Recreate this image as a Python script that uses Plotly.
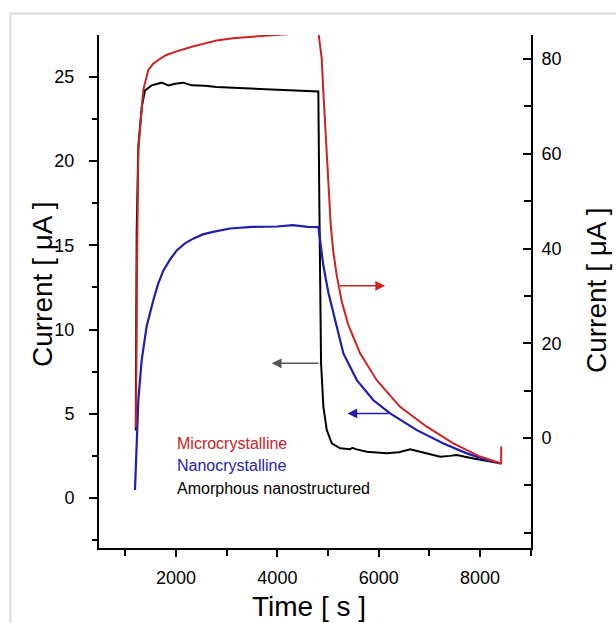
import plotly.graph_objects as go

# ---- data ----
t_red = [1210, 1215, 1230, 1256, 1309, 1354, 1453, 1550, 1650, 1800, 1980, 2140, 2310, 2572,
         2800, 3125, 3450, 3800, 4100, 4450, 4650, 4808, 4875, 4907, 4940, 4974, 5006, 5053,
         5104, 5171, 5270, 5400, 5632, 5961, 6421, 6948, 7473, 8000, 8395, 8415, 8418]
v_red = [2.3, 15.0, 36.9, 60.8, 68.5, 73.5, 77.7, 79.0, 79.8, 80.8, 81.5, 82.1, 82.6, 83.3,
         83.9, 84.4, 84.7, 85.0, 85.2, 85.4, 85.5, 85.8, 80.1, 73.1, 66.1, 59.0, 52.0, 45.0,
         39.3, 34.4, 28.8, 23.9, 17.9, 12.2, 6.6, 2.4, -1.1, -3.9, -5.3, -5.5, -1.8]

t_blue = [1190, 1256, 1323, 1421, 1552, 1645, 1749, 1880, 2014, 2170, 2336, 2530, 2730, 3066,
          3500, 4000, 4300, 4600, 4810, 4842, 4907, 5006, 5138, 5303, 5568, 5895, 6225, 6752,
          7277, 7740, 8134, 8397]
v_blue = [0.47, 5.8, 8.2, 10.2, 11.74, 12.7, 13.5, 14.15, 14.7, 15.1, 15.4, 15.65, 15.8, 16.0,
          16.1, 16.12, 16.2, 16.1, 16.08, 15.4, 13.8, 12.2, 10.6, 8.58, 7.0, 5.8, 5.02, 4.03,
          3.24, 2.65, 2.25, 2.06]

t_black = [1205, 1224, 1256, 1323, 1388, 1520, 1717, 1848, 1980, 2144, 2310, 2572, 2800,
           3125, 3450, 3797, 4100, 4448, 4808, 4830, 4850, 4862, 4908, 4975, 5074, 5238, 5435,
           5480, 5550, 5765, 6160, 6400, 6620, 6800, 6950, 7212, 7400, 7542, 7870, 8265, 8400]
v_black = [4.0, 15.9, 20.9, 23.2, 24.2, 24.5, 24.66, 24.5, 24.6, 24.66, 24.5, 24.48, 24.4,
           24.36, 24.3, 24.24, 24.22, 24.19, 24.14, 17.0, 11.0, 8.0, 5.41, 4.03, 3.24, 2.95, 2.89,
           2.98, 2.9, 2.74, 2.65, 2.72, 2.89, 2.75, 2.65, 2.45, 2.5, 2.55, 2.35, 2.15, 2.06]

series_names = ["Microcrystalline", "Nanocrystalline", "Amorphous nanostructured"]
x_ticks = [2000, 4000, 6000, 8000]
y_left_ticks = [0, 5, 10, 15, 20, 25]
y_right_ticks = [0, 20, 40, 60, 80]
y_right_minor = [-20, -10, 10, 30, 50, 70]

RED = "#cc2222"
BLUE = "#1e1eb0"
BLACK = "#000000"
FONT = "Arial, Liberation Sans, sans-serif"

fig = go.Figure()
fig.add_trace(go.Scatter(x=t_black, y=v_black, mode="lines", line=dict(color=BLACK, width=2),
                         name=series_names[2], yaxis="y"))
fig.add_trace(go.Scatter(x=t_blue, y=v_blue, mode="lines", line=dict(color=BLUE, width=2.2),
                         name=series_names[1], yaxis="y"))
fig.add_trace(go.Scatter(x=t_red, y=v_red, mode="lines", line=dict(color=RED, width=2),
                         name=series_names[0], yaxis="y2"))

W, H = 616, 623
L, R, T, B = 99, 85, 35, 75
pw, ph = W - L - R, H - T - B

def px(xp):
    return (xp - L) / pw

def py(yp):
    return (H - B - yp) / ph

fig.update_layout(
    width=W, height=H,
    margin=dict(l=L, r=R, t=T, b=B, pad=0),
    paper_bgcolor="white", plot_bgcolor="white",
    showlegend=False,
    font=dict(family=FONT, size=18, color="black"),
    xaxis=dict(range=[480, 9005], tickvals=x_ticks, showgrid=False, zeroline=False,
               showline=True, linecolor="black", linewidth=2, ticks="outside", ticklen=7,
               tickwidth=2, tickcolor="black", ticklabelstandoff=5,
               minor=dict(dtick=1000, tick0=0, ticks="outside", ticklen=6, tickwidth=2,
                          tickcolor="black")),
    yaxis=dict(range=[-2.97, 27.49], tickvals=y_left_ticks, showgrid=False, zeroline=False,
               showline=True, linecolor="black", linewidth=2, ticks="outside", ticklen=8,
               tickwidth=2, tickcolor="black", ticklabelstandoff=11,
               minor=dict(dtick=2.5, tick0=0, ticks="outside", ticklen=5, tickwidth=2,
                          tickcolor="black")),
    yaxis2=dict(range=[-23.2, 85.07], overlaying="y", side="right", tickvals=y_right_ticks,
                showgrid=False, zeroline=False, showline=True, linecolor="black", linewidth=2,
                ticks="inside", ticklen=8, tickwidth=2, tickcolor="black", ticklabelstandoff=5,
                minor=dict(tickvals=y_right_minor, ticks="inside", ticklen=7, tickwidth=2,
                           tickcolor="black")),
)

# light frame around the figure
fig.add_shape(type="rect", xref="paper", yref="paper",
              x0=px(10.5), x1=px(660), y0=py(660), y1=py(13.5),
              line=dict(color="#dcdcdc", width=2), layer="below")

ann = []
# axis titles
ann.append(dict(text="Time [ s ]", xref="paper", yref="paper", x=px(309), y=py(606),
                xanchor="center", yanchor="middle", showarrow=False,
                font=dict(size=28, family=FONT, color="black")))
ann.append(dict(text="Current [ μA ]", xref="paper", yref="paper", x=px(42), y=py(284),
                xanchor="center", yanchor="middle", showarrow=False, textangle=-90,
                font=dict(size=28, family=FONT, color="black")))
ann.append(dict(text="Current [ μA ]", xref="paper", yref="paper", x=px(596), y=py(290),
                xanchor="center", yanchor="middle", showarrow=False, textangle=-90,
                font=dict(size=28, family=FONT, color="black")))
# legend texts
for name, col, yp in zip(series_names, [RED, BLUE, BLACK], [443, 465.5, 488]):
    ann.append(dict(text=name, xref="paper", yref="paper", x=px(175), y=py(yp),
                    xanchor="left", yanchor="middle", showarrow=False,
                    font=dict(size=16, family=FONT, color=col)))
# arrows pointing to the axes
arrows = [  # (head_t, tail_t, level on left axis, colour)
    (6126, 5203, 12.6, RED),
    (3889, 4843, 8.0, "#555555"),
    (5382, 6225, 5.02, BLUE),
]
for head, tail, lvl, col in arrows:
    ann.append(dict(text="", x=head, y=lvl, ax=tail, ay=lvl, xref="x", yref="y",
                    axref="x", ayref="y", showarrow=True, arrowhead=2, arrowsize=1.3,
                    arrowwidth=1.5, arrowcolor=col))
fig.update_layout(annotations=ann)

fig.write_html("out.html", config={"displayModeBar": False},
               post_script="document.body.style.margin='0px';document.body.style.overflow='hidden';")
